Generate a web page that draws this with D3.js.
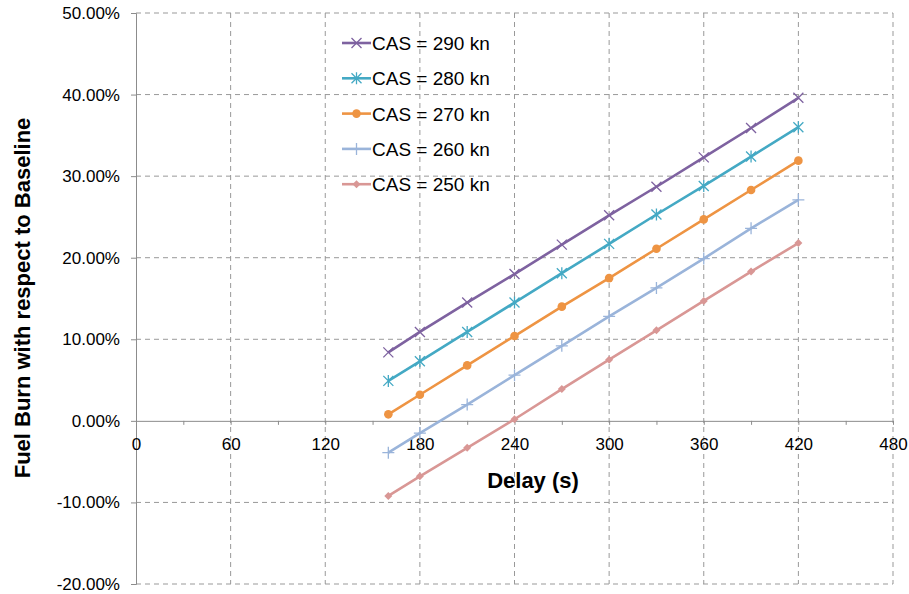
<!DOCTYPE html>
<html><head><meta charset="utf-8">
<script src="https://cdn.jsdelivr.net/npm/d3@7"></script>
<style>body{margin:0;background:#fff;font-family:"Liberation Sans",Arial,sans-serif;}</style>
</head><body><svg id="c" width="909" height="594"></svg>
<script>
const delays = [160, 180, 210, 240, 270, 300, 330, 360, 390, 420];
const seriesNames = ["CAS = 290 kn", "CAS = 280 kn", "CAS = 270 kn", "CAS = 260 kn", "CAS = 250 kn"];
const cas290 = [8.4, 10.9, 14.5, 18.0, 21.6, 25.2, 28.7, 32.3, 35.9, 39.6];
const cas280 = [4.9, 7.3, 10.9, 14.5, 18.1, 21.7, 25.3, 28.8, 32.4, 36.0];
const cas270 = [0.8, 3.2, 6.8, 10.4, 14.0, 17.5, 21.1, 24.7, 28.3, 31.9];
const cas260 = [-3.9, -1.5, 2.0, 5.6, 9.2, 12.8, 16.3, 19.9, 23.6, 27.1];
const cas250 = [-9.2, -6.8, -3.3, 0.2, 3.9, 7.5, 11.1, 14.7, 18.3, 21.8];
const xTicks = [0, 60, 120, 180, 240, 300, 360, 420, 480];
const yTicks = [-20, -10, 0, 10, 20, 30, 40, 50];

const colors = ["#7E62A0", "#44A9C4", "#EE9443", "#9AB4DA", "#D99795"];
const markers = ["x", "asterisk", "circle", "plus", "diamond"];
const values = [cas290, cas280, cas270, cas260, cas250];

const svg = d3.select("#c");
const L = 136, R = 893, T = 13, B = 584;
const x = d3.scaleLinear().domain([0, 480]).range([L, R]);
const y = d3.scaleLinear().domain([-20, 50]).range([B, T]);

// grid
const g = svg.append("g");
g.selectAll("line.h").data(yTicks.filter(v => v !== 0)).join("line")
  .attr("x1", L).attr("x2", R).attr("y1", d => y(d)).attr("y2", d => y(d))
  .attr("stroke", "#999").attr("stroke-width", 1).attr("stroke-dasharray", "5,4");
g.selectAll("line.v").data(xTicks.filter(v => v !== 0)).join("line")
  .attr("y1", T).attr("y2", B).attr("x1", d => x(d)).attr("x2", d => x(d))
  .attr("stroke", "#999").attr("stroke-width", 1).attr("stroke-dasharray", "5,4");

// y axis
const yAxis = svg.append("g").attr("transform", `translate(${L},0)`)
  .call(d3.axisLeft(y).tickValues(yTicks).tickSize(5).tickFormat(d => d.toFixed(2) + "%"));
yAxis.select(".domain").attr("stroke", "#8c8c8c");
yAxis.selectAll(".tick line").attr("stroke", "#8c8c8c");
yAxis.selectAll(".tick text").attr("font-family", "Liberation Sans, Arial, sans-serif")
  .attr("font-size", 17).attr("fill", "#000").attr("x", -16);

// x axis at y=0
const xAxis = svg.append("g").attr("transform", `translate(0,${y(0)})`)
  .call(d3.axisBottom(x).tickValues(d3.range(0, 481, 30)).tickSize(4).tickSizeOuter(0)
    .tickFormat(d => xTicks.includes(d) ? d : ""));
xAxis.select(".domain").attr("stroke", "#8c8c8c");
xAxis.selectAll(".tick line").attr("stroke", "#8c8c8c");
xAxis.selectAll(".tick text").attr("font-family", "Liberation Sans, Arial, sans-serif")
  .attr("font-size", 17).attr("fill", "#000").attr("y", 17);

// axis titles
svg.append("text").attr("x", 533).attr("y", 488).attr("text-anchor", "middle")
  .attr("font-size", 22).attr("font-weight", "bold").text("Delay (s)");
svg.append("text").attr("transform", "translate(30,298) rotate(-90)").attr("text-anchor", "middle")
  .attr("font-size", 22).attr("font-weight", "bold").text("Fuel Burn with respect to Baseline");

function drawMarker(sel, type, color) {
  if (type === "x") {
    sel.append("path").attr("d", "M-5,-5L5,5M-5,5L5,-5").attr("stroke", color).attr("stroke-width", 1.3).attr("fill", "none");
  } else if (type === "asterisk") {
    sel.append("path").attr("d", "M-5,-5L5,5M-5,5L5,-5M0,-6L0,6").attr("stroke", color).attr("stroke-width", 1.3).attr("fill", "none");
  } else if (type === "circle") {
    sel.append("circle").attr("r", 4.3).attr("fill", color);
  } else if (type === "plus") {
    sel.append("path").attr("d", "M-6,0L6,0M0,-6L0,6").attr("stroke", color).attr("stroke-width", 1.3).attr("fill", "none");
  } else if (type === "diamond") {
    sel.append("path").attr("d", "M0,-4L4,0L0,4L-4,0Z").attr("fill", color);
  }
}

const line = d3.line().x(d => x(d[0])).y(d => y(d[1]));
values.forEach((vals, i) => {
  const pts = delays.map((d, j) => [d, vals[j]]);
  svg.append("path").datum(pts).attr("d", line).attr("fill", "none")
    .attr("stroke", colors[i]).attr("stroke-width", 2.6);
  svg.append("g").selectAll("g").data(pts).join("g")
    .attr("transform", d => `translate(${x(d[0])},${y(d[1])})`)
    .each(function () { drawMarker(d3.select(this), markers[i], colors[i]); });
});

// legend
const leg = svg.append("g");
seriesNames.forEach((name, i) => {
  const ly = 43 + i * 35.3;
  const gi = leg.append("g");
  gi.append("line").attr("x1", 342).attr("x2", 371).attr("y1", ly).attr("y2", ly)
    .attr("stroke", colors[i]).attr("stroke-width", 2.6);
  drawMarker(gi.append("g").attr("transform", `translate(356.5,${ly})`), markers[i], colors[i]);
  gi.append("text").attr("x", 372).attr("y", ly + 7).attr("font-size", 19).attr("fill", "#000").text(name);
});
</script></body></html>
